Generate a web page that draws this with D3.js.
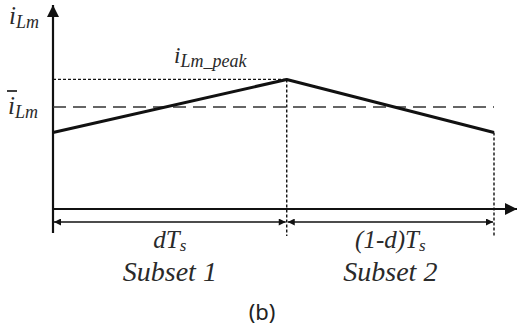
<!DOCTYPE html>
<html>
<head>
<meta charset="utf-8">
<script src="https://cdn.jsdelivr.net/npm/d3@7"></script>
<style>
  html, body { margin: 0; padding: 0; background: #fff; }
  svg { display: block; }
  .lbl { font-family: "Liberation Serif", "Times New Roman", serif; font-style: italic; fill: #2a2a2a; }
</style>
</head>
<body>
<svg id="chart" width="518" height="327"></svg>
<script>
// Magnetising current over one switching period (normalised time, normalised current)
const duty = 0.53;
const timePoints = [0, duty, 1];
const currentValues = [0.75, 1.27, 0.75];
const meanCurrent = 1.0;
const peakCurrent = 1.27;
const subsetLabels = ["Subset 1", "Subset 2"];

const svg = d3.select("#chart");
const ink = "#111";

const x = d3.scaleLinear().domain([0, 1]).range([53, 494]);
const y = d3.scaleLinear().domain([0, 2]).range([209, 5]);

const defs = svg.append("defs");
function marker(id, w, h) {
  defs.append("marker")
    .attr("id", id).attr("viewBox", "0 0 10 10")
    .attr("refX", 10).attr("refY", 5)
    .attr("markerWidth", w).attr("markerHeight", h)
    .attr("markerUnits", "userSpaceOnUse")
    .attr("orient", "auto-start-reverse")
    .append("path").attr("d", "M0,0 L10,5 L0,10 Z").attr("fill", ink);
}
marker("axisHead", 13, 12);
marker("dimHead", 10, 7);

// Axes
svg.append("line")
  .attr("x1", x(0)).attr("x2", x(0))
  .attr("y1", 233).attr("y2", y(2))
  .attr("stroke", ink).attr("stroke-width", 2.2)
  .attr("marker-end", "url(#axisHead)");
svg.append("line")
  .attr("x1", x(0)).attr("x2", 517)
  .attr("y1", y(0)).attr("y2", y(0))
  .attr("stroke", ink).attr("stroke-width", 2)
  .attr("marker-end", "url(#axisHead)");

// Peak reference (dotted)
svg.append("line")
  .attr("x1", x(0)).attr("x2", x(duty))
  .attr("y1", y(peakCurrent)).attr("y2", y(peakCurrent))
  .attr("stroke", ink).attr("stroke-width", 1.3)
  .attr("stroke-dasharray", "3,2");

// Average current (dashed)
svg.append("line")
  .attr("x1", x(0)).attr("x2", x(1))
  .attr("y1", y(meanCurrent)).attr("y2", y(meanCurrent))
  .attr("stroke", "#333").attr("stroke-width", 1.6)
  .attr("stroke-dasharray", "13,7");

// Vertical dotted markers at the switching instants
[duty, 1].forEach((t, i) => {
  svg.append("line")
    .attr("x1", x(t)).attr("x2", x(t))
    .attr("y1", y(currentValues[i + 1])).attr("y2", 236)
    .attr("stroke", ink).attr("stroke-width", 1.4)
    .attr("stroke-dasharray", "3,2");
});

// Current waveform
const line = d3.line().x((d, i) => x(timePoints[i])).y(d => y(d));
svg.append("path")
  .datum(currentValues)
  .attr("d", line)
  .attr("fill", "none")
  .attr("stroke", ink).attr("stroke-width", 3)
  .attr("stroke-linejoin", "round");

// Interval dimension arrows
const dimY = 222;
[[0, duty], [duty, 1]].forEach(([a, b]) => {
  svg.append("line")
    .attr("x1", x(a) + 1).attr("x2", x(b) - 1)
    .attr("y1", dimY).attr("y2", dimY)
    .attr("stroke", ink).attr("stroke-width", 1.5)
    .attr("marker-start", "url(#dimHead)")
    .attr("marker-end", "url(#dimHead)");
});

// Labels
function subLabel(xp, yp, main, sub, size, subSize, shift, anchor) {
  const t = svg.append("text").attr("class", "lbl")
    .attr("x", xp).attr("y", yp).attr("font-size", size)
    .attr("text-anchor", anchor || "start");
  t.append("tspan").text(main);
  t.append("tspan").attr("font-size", subSize).attr("dy", shift).text(sub);
  return t;
}
subLabel(9, 24, "i", "Lm", 25, 18, 4);
subLabel(8, 114, "i", "Lm", 25, 18, 4);
svg.append("line").attr("x1", 7).attr("x2", 17).attr("y1", 91).attr("y2", 91)
  .attr("stroke", "#2a2a2a").attr("stroke-width", 1.8);
subLabel(174, 63, "i", "Lm_peak", 23, 18, 4);

subLabel((x(0) + x(duty)) / 2, 248, "dT", "s", 25, 17, 3, "middle");
subLabel((x(duty) + x(1)) / 2, 248, "(1-d)T", "s", 25, 17, 3, "middle");
svg.selectAll(".subset").data(subsetLabels).enter().append("text")
  .attr("class", "lbl subset")
  .attr("x", (d, i) => i === 0 ? (x(0) + x(duty)) / 2 : (x(duty) + x(1)) / 2)
  .attr("y", 281).attr("font-size", 28).attr("text-anchor", "middle")
  .text(d => d);

svg.append("text")
  .attr("x", 262).attr("y", 320).attr("text-anchor", "middle")
  .attr("font-family", "'Noto Sans', 'DejaVu Sans', sans-serif")
  .attr("font-size", 22).attr("fill", "#222")
  .text("(b)");
</script>
</body>
</html>
